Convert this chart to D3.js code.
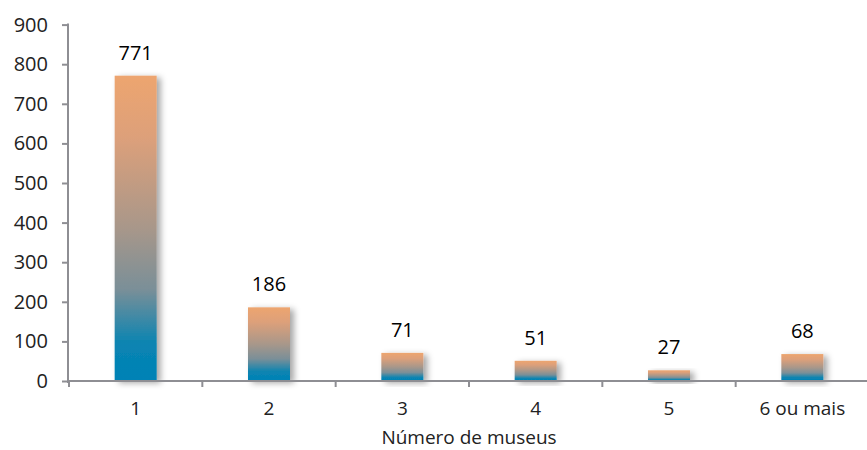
<!DOCTYPE html>
<html><head><meta charset="utf-8">
<script src="https://cdn.jsdelivr.net/npm/d3@7"></script>
<style>body{margin:0;background:#fff}svg{display:block}text{font-family:"Open Sans",Lato,sans-serif}</style>
</head><body>
<svg id="c" width="867" height="450"></svg>
<script>
const categories = ["1","2","3","4","5","6 ou mais"];
const values = [771,186,71,51,27,68];
const yTicks = [0,100,200,300,400,500,600,700,800,900];
const xTitle = "Número de museus";

const svg = d3.select("#c");
const x = d3.scaleBand().domain(categories).range([69,869]);
const y = d3.scaleLinear().domain([0,900]).range([381,24.6]);
const barW = 42;

const defs = svg.append("defs");
const g = defs.append("linearGradient").attr("id","grad").attr("x1",0).attr("y1",0).attr("x2",0).attr("y2",1);
[[0,"#EDA56F"],[0.2,"#DDA07A"],[0.5,"#A8978A"],[0.7,"#7A8F98"],[0.88,"#0884B2"],[1,"#0382B6"]]
  .forEach(([o,c])=>g.append("stop").attr("offset",o).attr("stop-color",c));
const f = defs.append("filter").attr("id","sh").attr("x","-50%").attr("y","-20%").attr("width","200%").attr("height","140%");
f.append("feDropShadow").attr("dx",4).attr("dy",2).attr("stdDeviation",3).attr("flood-color","#000").attr("flood-opacity",0.35);

svg.append("g").selectAll("rect").data(values).join("rect")
  .attr("x",(d,i)=>x(categories[i])+x.bandwidth()/2-barW/2)
  .attr("y",d=>y(d)).attr("width",barW).attr("height",d=>y(0)-y(d))
  .attr("fill","url(#grad)").attr("filter","url(#sh)");

svg.append("g").selectAll("text").data(values).join("text")
  .attr("x",(d,i)=>x(categories[i])+x.bandwidth()/2)
  .attr("y",d=>y(d)-16).attr("text-anchor","middle")
  .attr("font-size",20).attr("fill","#000").text(d=>d);

const axColor = "#8e8e93";
// y axis
const ya = svg.append("g").attr("transform","translate(68,0)")
  .call(d3.axisLeft(y).tickValues(yTicks).tickSize(6).tickPadding(14));
ya.select(".domain").attr("stroke",axColor).attr("stroke-width",2).attr("d","M0,23.6V383");
ya.selectAll(".tick line").attr("stroke",axColor).attr("stroke-width",2);
ya.selectAll(".tick text").attr("font-size",20).attr("fill","#222");

// x axis
const xa = svg.append("g").attr("transform","translate(0,381)");
xa.append("line").attr("x1",67).attr("x2",867).attr("y1",0).attr("y2",0).attr("stroke",axColor).attr("stroke-width",2);
const bounds = categories.map(c=>x(c));
xa.selectAll("line.tk").data(bounds).join("line").attr("class","tk")
  .attr("x1",d=>d).attr("x2",d=>d).attr("y1",0).attr("y2",6).attr("stroke",axColor).attr("stroke-width",2);
xa.selectAll("text").data(categories).join("text")
  .attr("x",c=>x(c)+x.bandwidth()/2).attr("y",34).attr("text-anchor","middle")
  .attr("font-size",19).attr("fill","#222").text(c=>c);

svg.append("text").attr("x",469).attr("y",444).attr("text-anchor","middle")
  .attr("font-size",19).attr("fill","#222").text(xTitle);
</script>
</body></html>
